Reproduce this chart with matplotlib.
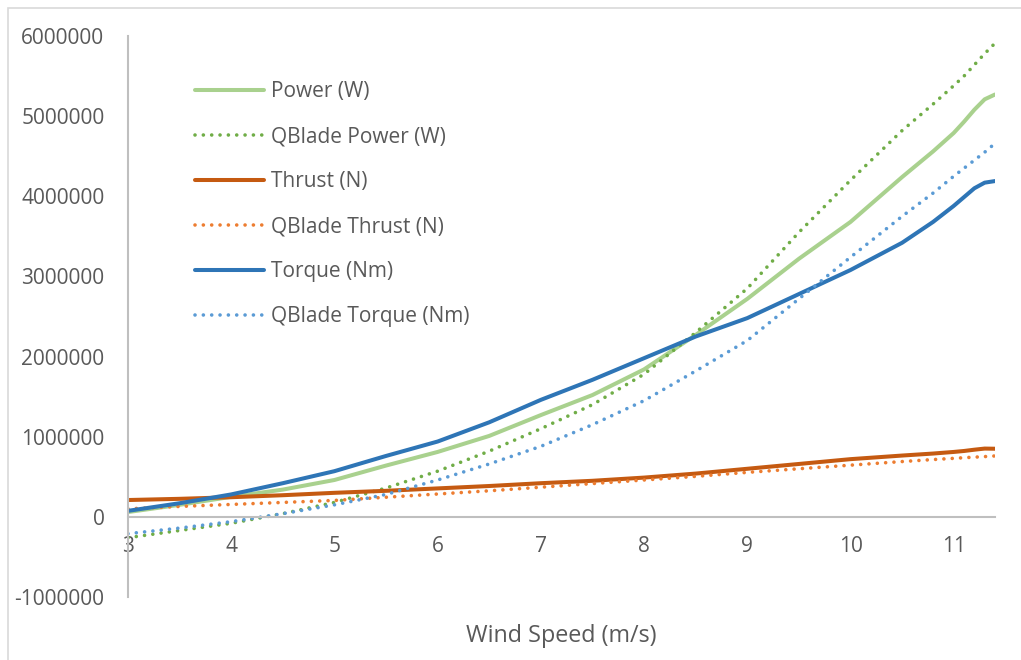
import numpy as np
import matplotlib.pyplot as plt
from matplotlib.patches import Rectangle

plt.rcParams['font.family'] = ['Open Sans', 'DejaVu Sans']

# wind speed (m/s)
wind = [3, 3.5, 4, 4.5, 5, 5.5, 6, 6.5, 7, 7.5, 8, 8.5, 9, 9.5, 10, 10.5,
        10.8, 11, 11.1, 11.2, 11.3, 11.4]

power = [60e3, 150e3, 250e3, 340e3, 460e3, 640e3, 810e3, 1.01e6, 1.27e6, 1.52e6,
         1.84e6, 2.27e6, 2.72e6, 3.22e6, 3.68e6, 4.24e6,
         4.56e6, 4.79e6, 4.93e6, 5.08e6, 5.21e6, 5.27e6]
qb_power = [-260e3, -170e3, -80e3, 40e3, 180e3, 360e3, 570e3, 820e3, 1.10e6, 1.40e6,
            1.78e6, 2.30e6, 2.85e6, 3.55e6, 4.20e6, 4.82e6,
            5.15e6, 5.38e6, 5.50e6, 5.64e6, 5.78e6, 5.91e6]
thrust = [210e3, 225e3, 245e3, 270e3, 300e3, 325e3, 355e3, 385e3, 420e3, 450e3,
          490e3, 540e3, 600e3, 660e3, 720e3, 765e3,
          790e3, 810e3, 822e3, 838e3, 852e3, 850e3]
qb_thrust = [100e3, 130e3, 155e3, 180e3, 205e3, 245e3, 285e3, 325e3, 370e3, 415e3,
             460e3, 505e3, 555e3, 600e3, 645e3, 690e3,
             715e3, 730e3, 738e3, 745e3, 752e3, 760e3]
torque = [75e3, 170e3, 280e3, 420e3, 570e3, 760e3, 940e3, 1.18e6, 1.46e6, 1.71e6,
          1.98e6, 2.25e6, 2.48e6, 2.78e6, 3.08e6, 3.42e6,
          3.68e6, 3.88e6, 3.99e6, 4.10e6, 4.17e6, 4.19e6]
qb_torque = [-210e3, -140e3, -60e3, 40e3, 150e3, 280e3, 460e3, 660e3, 880e3, 1.15e6,
             1.45e6, 1.82e6, 2.20e6, 2.72e6, 3.24e6, 3.75e6,
             4.04e6, 4.25e6, 4.35e6, 4.45e6, 4.55e6, 4.66e6]

series = [
    ('Power (W)', power, '#A9D18E', '-'),
    ('QBlade Power (W)', qb_power, '#70AD47', ':'),
    ('Thrust (N)', thrust, '#C55A11', '-'),
    ('QBlade Thrust (N)', qb_thrust, '#ED7D31', ':'),
    ('Torque (Nm)', torque, '#2E75B6', '-'),
    ('QBlade Torque (Nm)', qb_torque, '#5B9BD5', ':'),
]

FS = 15
W, H = 1021, 660
fig = plt.figure(figsize=(W / 100, H / 100), dpi=100)
ax = fig.add_axes([128 / W, 1 - 597 / H, (995 - 128) / W, (597 - 36) / H])

for name, vals, col, ls in series:
    if ls == '-':
        ax.plot(wind, vals, color=col, lw=2.9, solid_capstyle='round',
                solid_joinstyle='round', label=name)
    else:
        ax.plot(wind, vals, color=col, lw=2.6, linestyle=(0, (0.01, 2.3)),
                dash_capstyle='round', label=name)

ax.set_xlim(3, 11.4)
ax.set_ylim(-1e6, 6e6)
ax.set_xticks(range(3, 12))
ax.set_yticks(np.arange(-1e6, 6.1e6, 1e6))
ax.yaxis.set_major_formatter(plt.FuncFormatter(lambda v, p: f'{v:.0f}'))

for s in ['top', 'right']:
    ax.spines[s].set_visible(False)
ax.spines['bottom'].set_position(('data', 0))
for s in ['left', 'bottom']:
    ax.spines[s].set_color('#BFBFBF')
    ax.spines[s].set_linewidth(1.5)
ax.tick_params(length=0, labelsize=FS, labelcolor='#595959')
ax.tick_params(axis='y', pad=17)
ax.tick_params(axis='x', pad=14)

fig.text(561 / W, 1 - 636 / H, 'Wind Speed (m/s)', ha='center', va='center',
         fontsize=16.8, color='#595959')

leg = ax.legend(loc='upper left', bbox_to_anchor=(187 / W, 1 - 73 / H),
                bbox_transform=fig.transFigure, frameon=False, fontsize=FS,
                handlelength=3.3, handletextpad=0.33, labelspacing=1.15,
                borderaxespad=0)
for t in leg.get_texts():
    t.set_color('#595959')

# chart area outline
fig.patches.append(Rectangle((8 / W, -0.1), 1.2, 1 - 8 / H + 0.1,
                             transform=fig.transFigure, fill=False,
                             edgecolor='#D9D9D9', lw=1.2))

fig.savefig('out.png', dpi=100)
